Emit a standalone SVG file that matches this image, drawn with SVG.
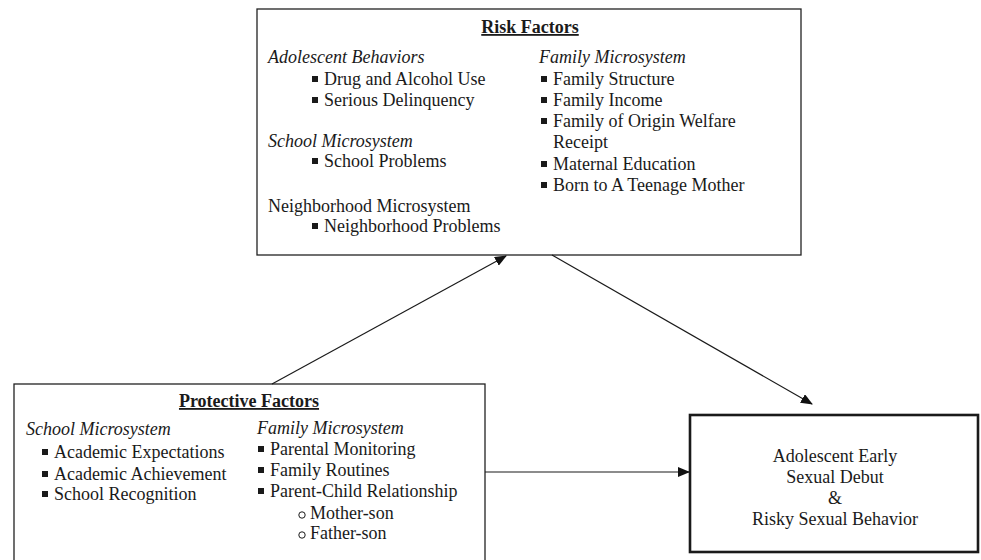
<svg xmlns="http://www.w3.org/2000/svg" width="981" height="560" viewBox="0 0 981 560">
<style>
.t{font-family:"Liberation Serif","Times New Roman",serif;font-size:18px;fill:#1a1a1a}
.i{font-style:italic}
.b{font-weight:bold;text-decoration:underline}
.box{fill:#fff;stroke:#222;stroke-width:1.3}
.thick{fill:#fff;stroke:#1a1a1a;stroke-width:2.6}
.c{stroke:#1a1a1a;stroke-width:1.2;fill:none}
.sq{fill:#1a1a1a}
</style>
<defs>
<marker id="ah" viewBox="0 0 12 10" refX="11" refY="5" markerWidth="12" markerHeight="10" markerUnits="userSpaceOnUse" orient="auto">
<path d="M0,0 L12,5 L0,10 z" fill="#111"/>
</marker>
</defs>
<rect width="981" height="560" fill="#fff"/>
<g id="risk">
<rect class="box" x="257" y="9" width="544" height="246"/>
<text class="t b" x="530" y="33" text-anchor="middle">Risk Factors</text>
<text class="t i" x="268" y="63">Adolescent Behaviors</text>
<rect class="sq" x="312" y="76" width="6" height="6"/><text class="t" x="324" y="85">Drug and Alcohol Use</text>
<rect class="sq" x="312" y="97" width="6" height="6"/><text class="t" x="324" y="106">Serious Delinquency</text>
<text class="t i" x="268" y="147">School Microsystem</text>
<rect class="sq" x="312" y="158" width="6" height="6"/><text class="t" x="324" y="167">School Problems</text>
<text class="t" x="268" y="212">Neighborhood Microsystem</text>
<rect class="sq" x="312" y="223" width="6" height="6"/><text class="t" x="324" y="232">Neighborhood Problems</text>
<text class="t i" x="539" y="63">Family Microsystem</text>
<rect class="sq" x="541" y="76" width="6" height="6"/><text class="t" x="553" y="85">Family Structure</text>
<rect class="sq" x="541" y="97" width="6" height="6"/><text class="t" x="553" y="106">Family Income</text>
<rect class="sq" x="541" y="118" width="6" height="6"/><text class="t" x="553" y="127">Family of Origin Welfare</text>
<text class="t" x="553" y="148">Receipt</text>
<rect class="sq" x="541" y="161" width="6" height="6"/><text class="t" x="553" y="170">Maternal Education</text>
<rect class="sq" x="541" y="182" width="6" height="6"/><text class="t" x="553" y="191">Born to A Teenage Mother</text>
</g>
<g id="protective">
<rect class="box" x="14" y="384" width="471" height="200"/>
<text class="t b" x="249" y="407" text-anchor="middle">Protective Factors</text>
<text class="t i" x="26" y="435">School Microsystem</text>
<rect class="sq" x="42" y="449" width="6" height="6"/><text class="t" x="54" y="458">Academic Expectations</text>
<rect class="sq" x="42" y="471" width="6" height="6"/><text class="t" x="54" y="480">Academic Achievement</text>
<rect class="sq" x="42" y="491" width="6" height="6"/><text class="t" x="54" y="500">School Recognition</text>
<text class="t i" x="257" y="434">Family Microsystem</text>
<rect class="sq" x="258" y="446" width="6" height="6"/><text class="t" x="270" y="455">Parental Monitoring</text>
<rect class="sq" x="258" y="467" width="6" height="6"/><text class="t" x="270" y="476">Family Routines</text>
<rect class="sq" x="258" y="488" width="6" height="6"/><text class="t" x="270" y="497">Parent-Child Relationship</text>
<circle cx="302" cy="515" r="3.2" fill="none" stroke="#1a1a1a" stroke-width="1"/><text class="t" x="310" y="519">Mother-son</text>
<circle cx="302" cy="535" r="3.2" fill="none" stroke="#1a1a1a" stroke-width="1"/><text class="t" x="310" y="539">Father-son</text>
</g>
<g id="outcome">
<rect class="thick" x="690" y="415" width="288" height="137"/>
<text class="t" x="835" y="462" text-anchor="middle">Adolescent Early</text>
<text class="t" x="835" y="483" text-anchor="middle">Sexual Debut</text>
<text class="t" x="835" y="504" text-anchor="middle">&amp;</text>
<text class="t" x="835" y="525" text-anchor="middle">Risky Sexual Behavior</text>
</g>
<g id="connectors">
<line class="c" x1="272" y1="384" x2="506" y2="256" marker-end="url(#ah)"/>
<line class="c" x1="552" y1="255" x2="812" y2="404" marker-end="url(#ah)"/>
<line class="c" x1="485" y1="472" x2="689" y2="472" marker-end="url(#ah)"/>
</g>
</svg>
